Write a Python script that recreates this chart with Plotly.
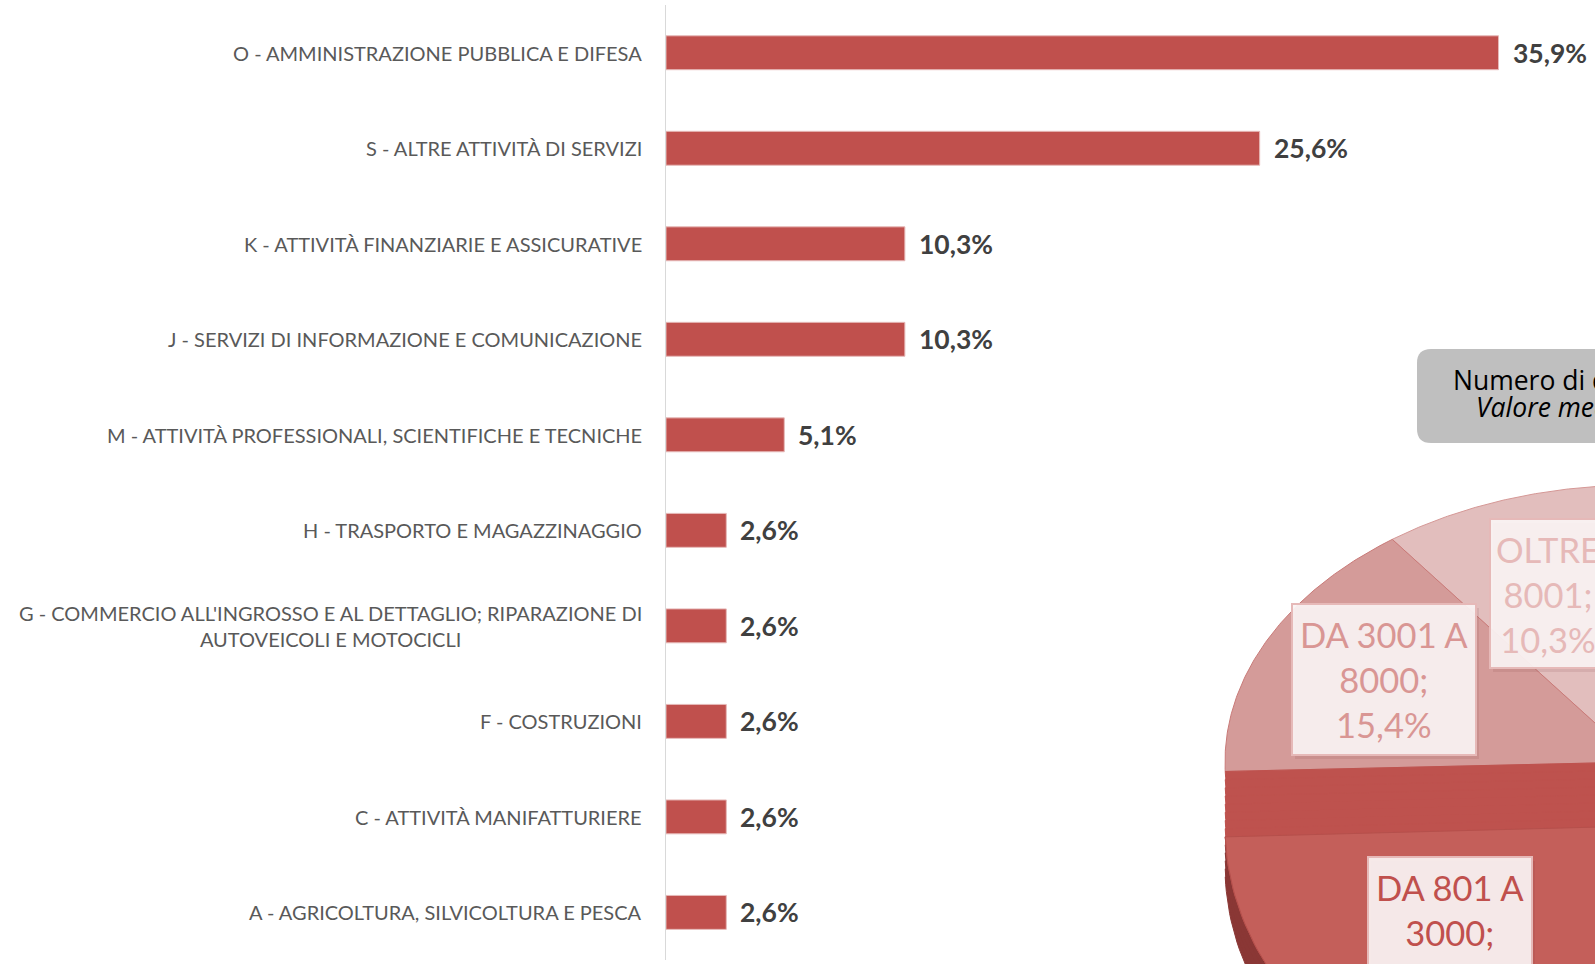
import numpy as np
import plotly.graph_objects as go

# --- bar chart: distribuzione per settore ---
settori = [
    "O - AMMINISTRAZIONE PUBBLICA E DIFESA",
    "S - ALTRE ATTIVITÀ DI SERVIZI",
    "K - ATTIVITÀ FINANZIARIE E ASSICURATIVE",
    "J - SERVIZI DI INFORMAZIONE E COMUNICAZIONE",
    "M - ATTIVITÀ PROFESSIONALI, SCIENTIFICHE E TECNICHE",
    "H - TRASPORTO E MAGAZZINAGGIO",
    "G - COMMERCIO ALL'INGROSSO E AL DETTAGLIO; RIPARAZIONE DI<br>AUTOVEICOLI E MOTOCICLI",
    "F - COSTRUZIONI",
    "C - ATTIVITÀ MANIFATTURIERE",
    "A - AGRICOLTURA, SILVICOLTURA E PESCA",
]
quote_settori = [35.9, 25.6, 10.3, 10.3, 5.1, 2.6, 2.6, 2.6, 2.6, 2.6]

# --- pie chart: numero di dipendenti (partly outside the picture) ---
classi = ["FINO A 800", "DA 801 A 3000", "DA 3001 A 8000", "OLTRE 8001"]
quote_classi = [30.8, 43.6, 15.4, 10.3]
pie_title = ["Numero di dipendenti", "Valore medio"]

W, H = 1595, 964
ML, MT = 666, 5

RED = '#c0504d'
fmt = lambda v: f"{v:.1f}%".replace('.', ',')

fig = go.Figure()

fig.add_trace(go.Bar(
    y=settori, x=quote_settori, orientation='h', width=0.355,
    marker=dict(color=RED, line=dict(color='#e6b9b8', width=1)),
    hoverinfo='skip', showlegend=False,
))

annotations = []
for s, v in zip(settori, quote_settori):
    annotations.append(dict(
        x=0, y=s, xref='paper', yref='y', xanchor='right', yanchor='middle',
        xshift=-22, text=s, showarrow=False, align='center',
        font=dict(family='Lato', size=20, color='#595959')))
    annotations.append(dict(
        x=v, y=s, xref='x', yref='y', xanchor='left', yanchor='middle',
        xshift=12, text=f"<b>{fmt(v)}</b>", showarrow=False,
        font=dict(family='Lato', size=26.5, color='#404040')))

# --- 3D-looking pie, drawn on a pixel-scaled second axis pair ---
CX, CY, RX, RY = 1638, 762, 413, 277
start = 89.8  # first slice begins here, slices go clockwise

bounds = {}
a = start
for name, q in zip(classi, quote_classi):
    bounds[name] = (a, a - q * 3.6)
    a -= q * 3.6


def sector(a0, a1, dy=0, sx=1.0, sy=1.0):
    t = np.radians(np.linspace(a0, a1, 120))
    xs = np.concatenate([[CX], CX + RX * sx * np.cos(t), [CX]])
    ys = np.concatenate([[CY + dy], CY + dy - RY * sy * np.sin(t), [CY + dy]])
    return xs, ys


def add_poly(xs, ys, fill, line, width=1):
    fig.add_trace(go.Scatter(
        x=xs, y=ys, xaxis='x2', yaxis='y2', mode='lines', fill='toself',
        fillcolor=fill, line=dict(color=line, width=width),
        hoverinfo='skip', showlegend=False))


pie_colors = {
    "FINO A 800": ('#e9cfce', '#d9a3a1'),
    "DA 3001 A 8000": ('#d49b99', '#c97a78'),
    "OLTRE 8001": ('#e2bebd', '#d59896'),
}
for name in ["FINO A 800", "OLTRE 8001", "DA 3001 A 8000"]:
    a0, a1 = bounds[name]
    xs, ys = sector(a0, a1)
    add_poly(xs, ys, *pie_colors[name])

# bevel rim on the back slices
a0, a1 = bounds["OLTRE 8001"][0], bounds["DA 3001 A 8000"][1]
t = np.radians(np.linspace(a0, a1, 120))
fig.add_trace(go.Scatter(
    x=CX + RX * 0.95 * np.cos(t), y=CY + 8 - RY * 0.73 * np.sin(t),
    xaxis='x2', yaxis='y2', mode='lines',
    line=dict(color='rgba(255,255,255,0.4)', width=1.2),
    hoverinfo='skip', showlegend=False))

# exploded slice: outer wall, radial face (swept) and top face
a0, a1 = bounds["DA 801 A 3000"]
EXPL, THICK, FRONT = 64, 40, 1.15
for dy in np.linspace(EXPL + THICK, EXPL, 6):
    xs, ys = sector(a0, a1, dy=dy, sy=FRONT)
    add_poly(xs, ys, '#8a3735', '#8a3735')
for dy in np.linspace(0, EXPL, 9):
    xs, ys = sector(a0, a1, dy=dy, sy=1 + (FRONT - 1) * dy / EXPL)
    add_poly(xs, ys, '#be524e', '#be524e')
xs, ys = sector(a0, a1, dy=0)
fig.add_trace(go.Scatter(
    x=xs[:2], y=ys[:2], xaxis='x2', yaxis='y2', mode='lines',
    line=dict(color='#a9423f', width=1), hoverinfo='skip', showlegend=False))
xs, ys = sector(a0, a1, dy=EXPL, sy=FRONT)
add_poly(xs, ys, '#c45f5a', '#b5504c')

# data label boxes
boxes = [
    ("DA 3001 A 8000", 1292, 604, 1476, 755, '#d99694'),
    ("OLTRE 8001", 1490, 519, 1606, 668, '#e6b9b8'),
    ("DA 801 A 3000", 1368, 857, 1532, 1005, RED),
]
shapes = []
for name, x0, y0, x1, y1, col in boxes:
    q = quote_classi[classi.index(name)]
    head, tail = name.rsplit(' ', 1)
    shapes.append(dict(type='rect', xref='x2', yref='y2', x0=x0 + 3, y0=y0 + 4,
                       x1=x1 + 3, y1=y1 + 4, fillcolor='rgba(120,60,60,0.12)',
                       line=dict(width=0), layer='above'))
    shapes.append(dict(type='rect', xref='x2', yref='y2', x0=x0, y0=y0,
                       x1=x1, y1=y1, fillcolor='rgba(250,243,243,0.93)',
                       line=dict(color='#e6b9b8', width=2), layer='above'))
    annotations.append(dict(
        x=(x0 + x1) / 2, y=y0 + 75, xref='x2', yref='y2',
        xanchor='center', yanchor='middle', showarrow=False, align='center',
        text=f"{head}<br>{tail};<br>{fmt(q)}",
        font=dict(family='Lato', size=34.5, color=col)))

# title box (rounded)
bx0, by0, bx1, by1, r = 1417, 349, 1760, 443, 14
shapes.append(dict(
    type='path', xref='x2', yref='y2', fillcolor='#bfbfbf', line=dict(width=0),
    layer='above',
    path=(f"M {bx0 + r},{by0} L {bx1},{by0} L {bx1},{by1} L {bx0 + r},{by1} "
          f"Q {bx0},{by1} {bx0},{by1 - r} L {bx0},{by0 + r} Q {bx0},{by0} {bx0 + r},{by0} Z")))
annotations.append(dict(
    x=1451, y=380, xref='x2', yref='y2', xanchor='left', yanchor='middle',
    showarrow=False, text=pie_title[0],
    font=dict(family='Open Sans', size=26.5, color='#000000')))
annotations.append(dict(
    x=1474, y=407, xref='x2', yref='y2', xanchor='left', yanchor='middle',
    showarrow=False, text=f"<i>{pie_title[1]}</i>",
    font=dict(family='Open Sans', size=26.5, color='#000000')))

fig.update_layout(
    width=W, height=H,
    margin=dict(l=ML, r=0, t=MT, b=0),
    paper_bgcolor='white', plot_bgcolor='rgba(0,0,0,0)',
    xaxis=dict(domain=[0, 1], range=[0, 40.06], visible=False, fixedrange=True),
    yaxis=dict(domain=[0.004, 1], autorange='reversed', showticklabels=False,
               ticks='', showgrid=False, zeroline=False,
               showline=True, linecolor='#d9d9d9', linewidth=1.3),
    xaxis2=dict(domain=[0, 1], range=[ML, W], visible=False, anchor='y2'),
    yaxis2=dict(domain=[0, 1], range=[H, MT], visible=False, anchor='x2'),
    annotations=annotations,
    shapes=shapes,
    showlegend=False,
)

fig.write_html("out.html", config={'displayModeBar': False},
               post_script="document.body.style.margin='0';")
